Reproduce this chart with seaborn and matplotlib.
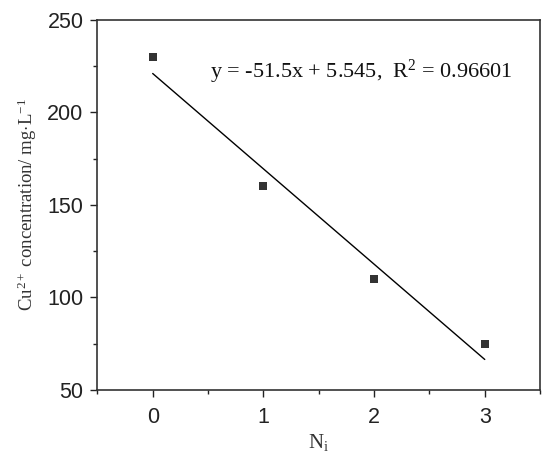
import matplotlib
matplotlib.use("Agg")
import matplotlib.pyplot as plt
import seaborn as sns
import numpy as np
import pandas as pd
from matplotlib.ticker import MultipleLocator

sns.set_style("ticks")
plt.rcParams['font.family'] = ['Liberation Sans', 'DejaVu Sans']
plt.rcParams['mathtext.fontset'] = 'custom'
plt.rcParams['mathtext.rm'] = 'Liberation Serif'
plt.rcParams['mathtext.it'] = 'Liberation Serif:italic'

ni = [0, 1, 2, 3]
cu = [230, 160, 110, 75]
df = pd.DataFrame({"Ni": ni, "Cu": cu})

fig = plt.figure(figsize=(5.5, 4.61), dpi=100)
ax = fig.add_axes([0.177, 0.154, 0.805, 0.803])

sns.regplot(data=df, x="Ni", y="Cu", ax=ax, ci=None, truncate=True,
            marker="s", scatter_kws=dict(s=26, color="black", linewidths=0),
            line_kws=dict(color="black", lw=1.0))

ax.set_xlim(-0.5, 3.5)
ax.set_ylim(50, 250)
ax.set_xticks([0, 1, 2, 3])
ax.set_yticks([50, 100, 150, 200, 250])
ax.xaxis.set_minor_locator(MultipleLocator(0.5))
ax.yaxis.set_minor_locator(MultipleLocator(25))
ax.tick_params(which='major', direction='out', length=5, width=1, labelsize=15.5, colors='#222222')
ax.tick_params(axis='x', which='major', pad=7)
ax.tick_params(axis='y', which='major', pad=5)
ax.tick_params(which='minor', direction='out', length=3, width=1, colors='#222222')
for s in ax.spines.values():
    s.set_linewidth(1.2)
    s.set_color('#333333')

serif = ['Liberation Serif', 'DejaVu Serif']
ax.set_xlabel(r"N$_\mathrm{i}$", family=serif, fontsize=15, color='#333333', labelpad=3)
ax.set_ylabel(r"Cu$^{2+}$ concentration/ mg$\cdot$L$^{-1}$", family=serif, fontsize=13.5, color='#333333', labelpad=6)

ax.text(0.52, 222, r"y = -51.5x + 5.545,  R$^2$ = 0.96601", family=serif, fontsize=16,
        va='center', ha='left', color='#111111')

fig.savefig("out.png", dpi=100)
